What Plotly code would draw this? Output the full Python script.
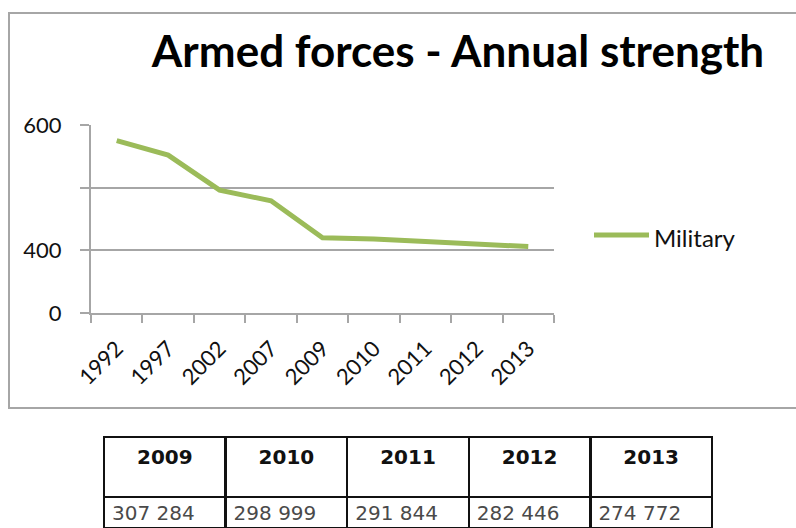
import plotly.graph_objects as go

# Annual strength series (axis units)
years = ["1992", "1997", "2002", "2007", "2009", "2010", "2011", "2012", "2013"]
military = [575, 552, 496, 479, 420, 418, 414, 411, 406]

# Y axis ticks and their printed labels
y_tickvals = [300, 400, 500, 600]
y_ticktext = ["0", "400", "", "600"]

# Table below the chart
table_years = ["2009", "2010", "2011", "2012", "2013"]
table_values = ["307 284", "298 999", "291 844", "282 446", "274 772"]

W, H = 796, 528
GREEN = "#9BBB59"
GREY = "#A6A6A6"


def px_x(x):
    return x / W


def px_y(y):
    return 1 - y / H


fig = go.Figure()

fig.add_trace(go.Scatter(
    x=years, y=military, mode="lines", name="Military",
    line=dict(color=GREEN, width=5), showlegend=False,
))

fig.add_trace(go.Table(
    domain=dict(x=[px_x(104), px_x(712)], y=[0, px_y(437)]),
    columnwidth=[1] * len(table_years),
    header=dict(
        values=[f"<b>{y}</b>" for y in table_years],
        align="center", height=60,
        font=dict(family="DejaVu Sans", size=20, color="#111111"),
        line=dict(color="#111111", width=2.5), fill=dict(color="white"),
    ),
    cells=dict(
        values=[[v] for v in table_values],
        align="left", height=31,
        font=dict(family="DejaVu Sans", size=20, color="#4a4a4a"),
        line=dict(color="#111111", width=2.5), fill=dict(color="white"),
    ),
))

fig.update_layout(
    width=W, height=H,
    margin=dict(l=0, r=0, t=0, b=0, pad=0, autoexpand=False),
    paper_bgcolor="white", plot_bgcolor="white",
    font=dict(family="Lato", color="#111111"),
    title=dict(
        text="<b>Armed forces - Annual strength</b>",
        x=px_x(458), xanchor="center", y=px_y(52), yanchor="middle",
        font=dict(family="Lato", size=44, color="#000000"),
    ),
    xaxis=dict(
        type="category", domain=[px_x(91), px_x(554)], range=[-0.5, 8.5],
        automargin=False,
        showgrid=False, showline=True, linecolor=GREY, linewidth=2,
        ticks="outside", tickson="boundaries", ticklen=8, tickcolor=GREY, tickwidth=2,
        ticklabelstandoff=12,
        tickangle=-45, tickfont=dict(family="Lato", size=22, color="#111111"),
        fixedrange=True,
    ),
    yaxis=dict(
        domain=[px_y(313), px_y(125)], range=[300, 600],
        automargin=False,
        tickvals=y_tickvals, ticktext=y_ticktext,
        showgrid=True, gridcolor=GREY, gridwidth=2,
        showline=True, linecolor=GREY, linewidth=2,
        ticks="outside", ticklen=9, tickcolor=GREY, tickwidth=2,
        ticklabelstandoff=14,
        tickfont=dict(family="Lato", size=22, color="#111111"),
        zeroline=False, fixedrange=True,
    ),
    shapes=[
        # chart frame
        dict(type="rect", xref="paper", yref="paper",
             x0=px_x(9), x1=px_x(800), y0=px_y(408), y1=px_y(13),
             line=dict(color=GREY, width=2), fillcolor="rgba(0,0,0,0)", layer="below"),
        # legend key
        dict(type="line", xref="paper", yref="paper",
             x0=px_x(594), x1=px_x(649), y0=px_y(235), y1=px_y(235),
             line=dict(color=GREEN, width=5)),
    ],
    annotations=[
        dict(text="Military", xref="paper", yref="paper",
             x=px_x(652), y=px_y(237), xanchor="left", yanchor="middle",
             showarrow=False, font=dict(family="Lato", size=24, color="#111111")),
    ],
)

fig.write_html("out.html")
